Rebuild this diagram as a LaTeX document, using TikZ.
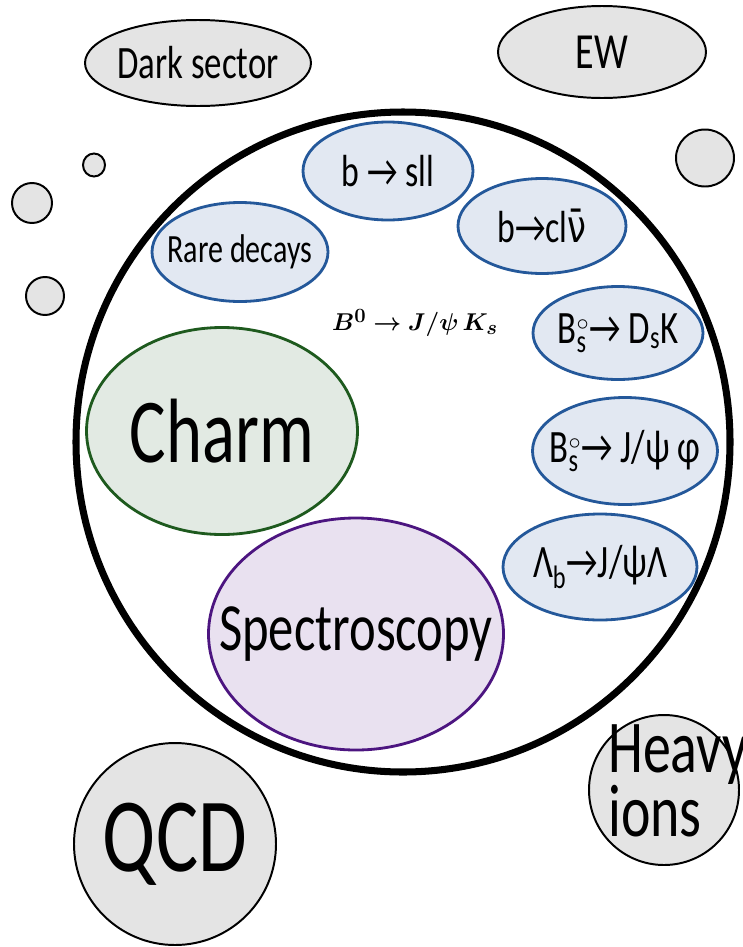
\documentclass[tikz,border=0pt]{standalone}
\usepackage{amsmath, bm}
\usepackage{fontspec}
\setmainfont[FakeStretch=0.75]{Carlito}
\newfontfamily\dejavu[FakeStretch=0.75]{DejaVu Sans}
\usetikzlibrary{shapes.geometric}
\definecolor{BubbleGray}{HTML}{E4E4E4}
\definecolor{BFill}{HTML}{E2E8F2}
\definecolor{BLine}{HTML}{24589A}
\definecolor{CharmFill}{HTML}{E2EAE3}
\definecolor{CharmLine}{HTML}{1E5A1E}
\definecolor{SpecFill}{HTML}{E9E1F0}
\definecolor{SpecLine}{HTML}{4C1580}
\newcommand{\fs}[1]{\fontsize{#1}{1.1\dimexpr#1pt\relax}\selectfont}
\newcommand{\Bszero}{B$^{\scriptscriptstyle\circ}_{\text{s}}$}

\begin{document}
\begin{tikzpicture}[x=0.25mm, y=-0.25mm,
    dims/.style 2 args={minimum width=#1*0.25mm, minimum height=#2*0.25mm},
    % text kept at zero width so the ellipse keeps the given size
    flat/.style={execute at begin node={\setbox0\hbox\bgroup},
                 execute at end node={\egroup\makebox[0pt]{\box0}}},
    outer/.style={ellipse, draw=black, line width=1.4pt, fill=BubbleGray, inner sep=0pt, flat},
    bphys/.style={ellipse, draw=BLine, line width=2pt, fill=BFill, inner sep=0pt, flat, font=\fs{33}}]
  \useasboundingbox (0,0) rectangle (742,947);
  % the LHCb programme
  \node[ellipse, draw, line width=5pt, dims={654}{660}] (lhcb) at (403,442) {};

  % neighbouring fields
  \node[outer, dims={226}{86}, font=\fs{33}] (dark) at (198,63) {Dark sector};
  \node[outer, dims={208}{92}, font=\fs{36}] (ew) at (602,52) {EW};
  \node[outer, dims={22}{23}] (dotA) at (94,165) {};
  \node[outer, dims={40}{40}] (dotB) at (32,203) {};
  \node[outer, dims={38}{38}] (dotC) at (45,296) {};
  \node[outer, dims={58}{57}] (dotD) at (705,158) {};
  \node[outer, dims={202}{202}, font=\fs{75}] (qcd) at (175,844) {QCD};
  \node[outer, dims={150}{150}] (heavy) at (664,790) {};
  \node[right, align=left, inner sep=0pt, font=\fontsize{53}{38}\selectfont] (heavytxt) at (608,781) {Heavy\\ions};

  % b physics
  \node[bphys, dims={170}{98}, font=\fs{32}] (bsll) at (388,171) {b → sll};
  \node[bphys, dims={168}{95}, font=\fs{32}] (bclnu) at (542,226) {b→cl{\dejavu ν̄}};
  \node[bphys, dims={176}{99}, font=\fs{28.5}] (rare) at (240,252) {Rare decays};
  \node[bphys, dims={170}{93}] (bsdsk) at (618,333) {\Bszero→ D$_{\text{s}}$K};
  \node[bphys, dims={185}{107}] (bspsiphi) at (625,451) {\Bszero→ J/ψ φ};
  \node[bphys, dims={194}{106}] (lambdab) at (600,567) {Λ$_{\text{b}}$→J/ψΛ};
  \node[font=\fontsize{19}{21}\selectfont] (bzero) at (415,323) {$\bm{B^0 \rightarrow J/\psi\,K_s}$};

  \node[ellipse, draw=CharmLine, line width=2pt, fill=CharmFill, inner sep=0pt, flat,
        dims={271}{207}, font=\fs{65}] (charm) at (222,431) {Charm};
  \node[ellipse, draw=SpecLine, line width=2pt, fill=SpecFill, inner sep=0pt, flat,
        dims={295}{232}, font=\fs{48}] (spec) at (356,634) {Spectroscopy};
\end{tikzpicture}
\end{document}
